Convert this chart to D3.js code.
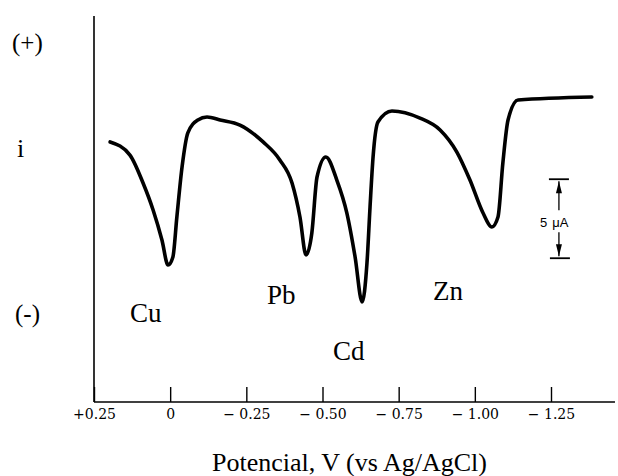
<!DOCTYPE html>
<html lang="es">
<head>
<meta charset="UTF-8">
<title>Voltamperograma de redisolución anódica</title>
<script src="https://d3js.org/d3.v7.min.js"></script>
<style>
  body { margin: 0; background: #fff; }
  svg { display: block; }
</style>
</head>
<body>
<svg width="618" height="476"></svg>
<script>
// potencial (V vs Ag/AgCl) y corriente relativa (µA)
const potential = [0.197, 0.132, 0.089, 0.056, 0.027, 0.007, -0.009, -0.022, -0.039, -0.058,
  -0.091, -0.121, -0.164, -0.229, -0.305, -0.360, -0.400, -0.426, -0.446, -0.465,
  -0.482, -0.511, -0.547, -0.580, -0.607, -0.630, -0.646, -0.656, -0.666, -0.682,
  -0.728, -0.820, -0.886, -0.941, -0.984, -1.027, -1.056, -1.076, -1.092, -1.109,
  -1.142, -1.384];
const current = [16.46, 15.63, 13.86, 12.15, 10.25, 8.67, 9.18, 11.71, 14.87, 17.03,
  17.85, 18.04, 17.85, 17.53, 16.46, 15.32, 13.86, 11.71, 9.30, 10.70,
  14.24, 15.51, 14.05, 11.96, 9.18, 6.33, 8.80, 12.34, 15.51, 17.72,
  18.42, 17.97, 17.22, 15.82, 14.05, 11.96, 11.08, 11.71, 15.13, 17.85,
  19.11, 19.30];

const tickValues = [0.25, 0, -0.25, -0.5, -0.75, -1.0, -1.25];
const tickLabels = ["+0.25", "0", "\u2212 0.25", "\u2212 0.50", "\u2212 0.75", "\u2212 1.00", "\u2212 1.25"];

const metals = ["Cu", "Pb", "Cd", "Zn"];

// barra de escala: 5 µA
const scaleBarPotential = -1.276;
const scaleBarTop = 14.1;
const scaleBarSpan = 5;

const svg = d3.select("svg");
const serif = "'Liberation Serif', 'Times New Roman', serif";

// escalas
const x = d3.scaleLinear().domain([0.25, -1.25]).range([94, 551]);
const y = d3.scaleLinear().domain([0, 20]).range([402, 86]);

// ejes
svg.append("line")
  .attr("x1", x(0.25)).attr("x2", x(0.25))
  .attr("y1", 16).attr("y2", y(0))
  .attr("stroke", "#000").attr("stroke-width", 1.6);

svg.append("line")
  .attr("x1", x(0.25)).attr("x2", x(-1.46))
  .attr("y1", y(0)).attr("y2", y(0))
  .attr("stroke", "#000").attr("stroke-width", 1.6);

const xAxis = svg.append("g")
  .attr("transform", "translate(0," + y(0) + ")")
  .attr("font-size", 14)
  .attr("font-family", "'DejaVu Serif', serif")
  .call(d3.axisBottom(x)
    .tickValues(tickValues)
    .tickFormat((d, i) => tickLabels[i])
    .tickSizeInner(-15)
    .tickSizeOuter(0)
    .tickPadding(7));
xAxis.attr("font-size", 14).attr("font-family", "'DejaVu Serif', serif");
xAxis.select(".domain").remove();
xAxis.selectAll(".tick line").attr("stroke", "#000").attr("stroke-width", 1.4);
xAxis.selectAll(".tick text")
  .attr("fill", "#000")
  .style("font-family", "'DejaVu Serif', serif")
  .style("font-size", "14px");

// curva
const line = d3.line()
  .x(i => x(potential[i]))
  .y(i => y(current[i]))
  .curve(d3.curveMonotoneX);

svg.append("path")
  .datum(d3.range(potential.length))
  .attr("d", line)
  .attr("fill", "none")
  .attr("stroke", "#000")
  .attr("stroke-width", 3.6)
  .attr("stroke-linejoin", "round")
  .attr("stroke-linecap", "round");

// etiquetas
const labelPos = { Cu: [130, 322], Pb: [267, 304], Cd: [333, 360], Zn: [433, 300] };
svg.selectAll(".metal")
  .data(metals)
  .enter().append("text")
  .attr("class", "metal")
  .attr("x", d => labelPos[d][0])
  .attr("y", d => labelPos[d][1])
  .style("font-family", serif)
  .style("font-size", "27px")
  .text(d => d);

svg.append("text").attr("x", 12).attr("y", 51)
  .style("font-family", serif).style("font-size", "25px").text("(+)");
svg.append("text").attr("x", 17).attr("y", 157)
  .style("font-family", serif).style("font-size", "26px").text("i");
svg.append("text").attr("x", 15).attr("y", 322)
  .style("font-family", serif).style("font-size", "25px").text("(-)");

svg.append("text").attr("x", 212).attr("y", 471)
  .style("font-family", serif).style("font-size", "26px")
  .text("Potencial, V (vs Ag/AgCl)");

// barra de escala
const sx = x(scaleBarPotential);
const yTop = y(scaleBarTop);
const yBot = y(scaleBarTop - scaleBarSpan);
const bar = svg.append("g").attr("stroke", "#000").attr("stroke-width", 1.3);
bar.append("line").attr("x1", sx - 10).attr("x2", sx + 10).attr("y1", yTop).attr("y2", yTop).attr("stroke-width", 1.8);
bar.append("line").attr("x1", sx - 9).attr("x2", sx + 11).attr("y1", yBot).attr("y2", yBot).attr("stroke-width", 1.8);
bar.append("line").attr("x1", sx).attr("x2", sx).attr("y1", yTop + 2).attr("y2", yTop + 31);
bar.append("line").attr("x1", sx).attr("x2", sx).attr("y1", yBot - 26).attr("y2", yBot - 2);
svg.append("path")
  .attr("d", `M${sx},${yTop + 2} L${sx - 3},${yTop + 14} L${sx + 3},${yTop + 14} Z`)
  .attr("fill", "#000");
svg.append("path")
  .attr("d", `M${sx},${yBot - 2} L${sx - 3},${yBot - 14} L${sx + 3},${yBot - 14} Z`)
  .attr("fill", "#000");
const sbText = svg.append("text")
  .attr("x", sx - 19).attr("y", (yTop + yBot) / 2 + 8)
  .style("font-family", "'Liberation Sans', Arial, sans-serif")
  .style("font-size", "13px");
sbText.append("tspan").text("5");
sbText.append("tspan").attr("dx", 5).text("\u03bcA");
</script>
</body>
</html>
